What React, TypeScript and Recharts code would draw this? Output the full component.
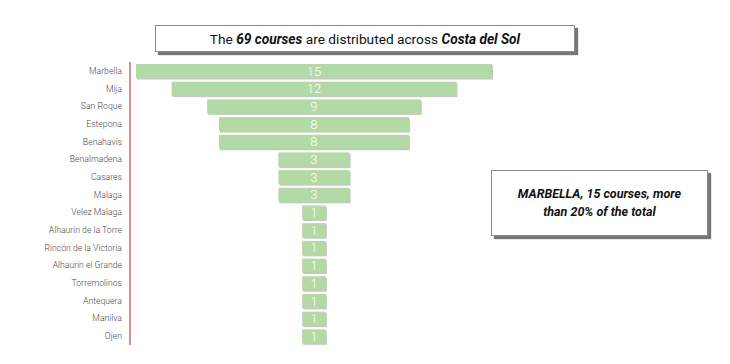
import React from "react";
import { Bar, BarChart, XAxis, YAxis, LabelList } from "recharts";

// courses per town, Costa del Sol
const towns = [
  "Marbella",
  "Mija",
  "San Roque",
  "Estepona",
  "Benahavis",
  "Benalmadena",
  "Casares",
  "Malaga",
  "Velez Malaga",
  "Alhaurin de la Torre",
  "Rincón de la Victoria",
  "Alhaurin el Grande",
  "Torremolinos",
  "Antequera",
  "Manilva",
  "Ojen",
];
const courses = [15, 12, 9, 8, 8, 3, 3, 3, 1, 1, 1, 1, 1, 1, 1, 1];

const maxCourses = Math.max(...courses);

// hidden offset bar centres every bar (funnel look)
const data = towns.map((name, i) => ({
  name,
  pad: (maxCourses - courses[i]) / 2,
  value: courses[i],
}));

const font = "Roboto, 'Noto Sans', sans-serif";

const ShadowBar = (props: any) => {
  const { x, y, width, height } = props;
  if (!width || width <= 0) return null;
  return (
    <g>
      <rect x={x + 1} y={y + 1.5} width={width} height={height} fill="#c4c8c2" />
      <rect x={x} y={y} width={width} height={height} fill="#b3d9a6" />
    </g>
  );
};

// plain single-line tick, no wrapping
const TownTick = (props: any) => {
  const { x, y, payload } = props;
  return (
    <text
      x={x}
      y={y}
      dy={3}
      textAnchor="end"
      fontSize={8.7}
      fill="#4a4a4a"
      fontFamily={font}
      fontWeight={300}
    >
      {payload.value}
    </text>
  );
};

const boxStyle = (left: number, top: number, w: number, h: number): React.CSSProperties => ({
  position: "absolute",
  left,
  top,
  width: w,
  height: h,
  boxSizing: "border-box",
  border: "1px solid #8a8a8a",
  background: "#fff",
  boxShadow: "3px 3px 1px #777",
  fontFamily: font,
  color: "#111",
  display: "flex",
  alignItems: "center",
  justifyContent: "center",
  textAlign: "center",
});

const App: React.FC = () => {
  return (
    <div
      style={{
        position: "absolute",
        left: 0,
        top: 0,
        width: 730,
        height: 364,
        background: "#fff",
        fontFamily: font,
      }}
    >
      <BarChart
        width={730}
        height={364}
        data={data}
        layout="vertical"
        barCategoryGap={2}
        margin={{ top: 62, right: 238, bottom: 19, left: 8 }}
      >
        <XAxis type="number" hide domain={[-0.25, maxCourses]} />
        <YAxis
          type="category"
          dataKey="name"
          width={122}
          tickLine={false}
          axisLine={{ stroke: "#c46d76", strokeWidth: 1.5 }}
          tick={<TownTick />}
          interval={0}
        />
        <Bar dataKey="pad" stackId="a" fill="transparent" isAnimationActive={false} />
        <Bar
          dataKey="value"
          stackId="a"
          barSize={15}
          shape={<ShadowBar />}
          isAnimationActive={false}
        >
          <LabelList
            dataKey="value"
            position="center"
            fill="#fff"
            fontSize={13}
            fontFamily={font}
            fontWeight={300}
          />
        </Bar>
      </BarChart>
      <div style={{ ...boxStyle(155, 25, 420, 27), fontSize: 13.7 }}>
        <span>
          The <b><i>69 courses</i></b> are distributed across <b><i>Costa del Sol</i></b>
        </span>
      </div>
      <div
        style={{
          ...boxStyle(491, 170, 217, 66),
          fontSize: 12.5,
          fontWeight: 700,
          fontStyle: "italic",
          lineHeight: "18px",
        }}
      >
        MARBELLA, 15 courses, more
        <br />
        than 20% of the total
      </div>
    </div>
  );
};

export default App;
